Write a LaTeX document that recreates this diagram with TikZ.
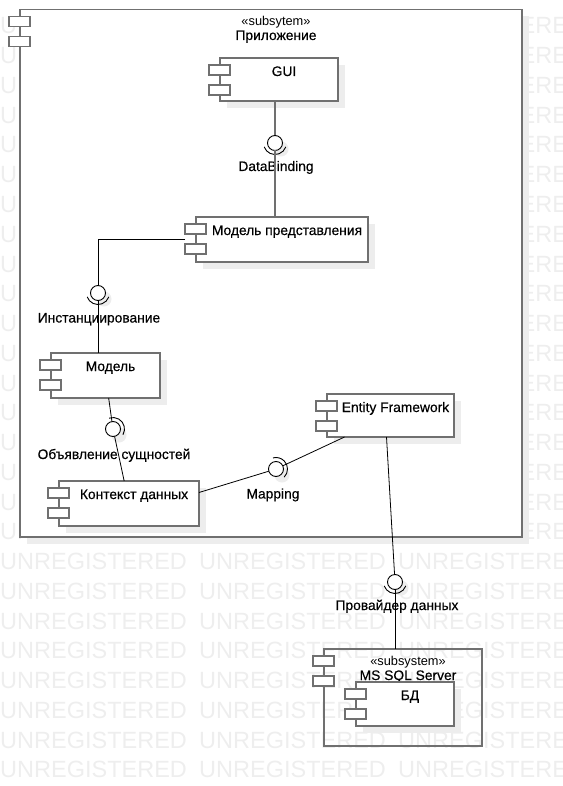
\documentclass[tikz,border=0pt]{standalone}
\usepackage{fontspec}
\setmainfont{Liberation Sans}[FakeBold=0.35]
\newfontfamily\wmfont{Liberation Sans}
\usetikzlibrary{shadows}
\definecolor{boxgray}{HTML}{707070}
\definecolor{shadegray}{HTML}{EDEDED}
\definecolor{wmgray}{HTML}{EEEEEE}

\begin{document}
\begin{tikzpicture}[x=1pt,y=1pt,font=\fontsize{13.8}{16}\selectfont,
    wm/.style={wmgray,font=\wmfont\fontsize{23.5}{28}\selectfont,inner sep=0,anchor=base west},
    comp/.style={draw=boxgray,line width=1.6pt,fill=white,inner sep=0,outer sep=0,
      drop shadow={shadow xshift=7pt,shadow yshift=-7pt,fill=shadegray,opacity=1}},
    subsys/.style={draw=boxgray,line width=1.6pt,inner sep=0,outer sep=0},
    icon/.style={draw=boxgray,line width=1.4pt,fill=white},
    cname/.style={inner sep=0,anchor=base},
    stereo/.style={inner sep=0,anchor=base,font=\wmfont\fontsize{12.8}{15}\selectfont},
    ball/.style={circle,draw,line width=0.9pt,fill=white,minimum size=15,inner sep=0,outer sep=0,
      drop shadow={shadow xshift=6pt,shadow yshift=-6pt,fill=shadegray,opacity=1}},
    socket/.style={line width=0.9pt},
    conn/.style={line width=0.8pt},
    bindline/.style={draw=boxgray,line width=1.6pt},
    iflabel/.style={inner sep=0,anchor=base}]
  \useasboundingbox (0,0) rectangle (562,-786);
  % watermark
  \begin{scope}
    \clip (0,0) rectangle (562,-786);
    \foreach \r in {0,...,25}
      \foreach \c in {0,1,2}
        \node[wm] at (199*\c,-34-29.75*\r) {UNREGISTERED};
  \end{scope}

  % subsystems
  \node[comp,minimum width=502,minimum height=527.5] (app) at (271,-273.25) {};
  \node[stereo] (app-st) at ([shift={(5,-16.5)}]app.north) {«subsytem»};
  \node[cname] (app-name) at ([shift={(5,-30.5)}]app.north) {Приложение};
  \node[subsys,minimum width=158,minimum height=97] (sql) at (403,-697.5) {};
  \node[stereo] (sql-st) at ([shift={(5,-16)}]sql.north) {«subsystem»};
  \node[cname] (sql-name) at ([shift={(5,-31)}]sql.north) {MS SQL Server};

  % components
  \node[comp,minimum width=118,minimum height=43] (gui) at (279,-79.5) {};
  \node[comp,minimum width=172,minimum height=45] (vm) at (282,-239.5) {};
  \node[comp,minimum width=109,minimum height=45] (model) at (105.5,-375.5) {};
  \node[comp,minimum width=140,minimum height=45] (ctx) at (129,-503.5) {};
  \node[comp,minimum width=127,minimum height=43] (ef) at (390.5,-415.5) {};
  \node[comp,minimum width=98,minimum height=44] (db) at (405,-704) {};
  \foreach \b/\t in {gui/GUI,vm/Модель представления,model/Модель,
      ctx/Контекст данных,ef/Entity Framework,db/БД}
    \node[cname] (\b-name) at ([shift={(5,-18)}]\b.north) {\t};
  \foreach \b in {app,sql,gui,vm,model,ctx,ef,db}
    \foreach \dy in {7,27}
      \draw[icon] ([shift={(-11,-\dy)}]\b.north west) rectangle ++(21,-10);

  % interfaces
  \node[ball] (bind) at (275,-143) {};
  \node[ball] (inst) at (98,-293) {};
  \node[ball] (decl) at (113,-429) {};
  \node[ball] (map) at (276,-469) {};
  \node[ball] (prov) at (395,-582) {};
  \foreach \i/\a/\e in {bind/200/340,inst/200/340,decl/-30/110,map/-45/105,prov/200/340}
    \draw[socket] (\i) ++(\a:11.5) arc[start angle=\a,end angle=\e,radius=11.5];
  \node[iflabel] (bind-lbl) at (276,-171) {DataBinding};
  \node[iflabel] (inst-lbl) at (99,-322.5) {Инстанциирование};
  \node[iflabel] (decl-lbl) at (114,-459) {Объявление сущностей};
  \node[iflabel] (map-lbl) at (273,-498.5) {Mapping};
  \node[iflabel] (prov-lbl) at (397,-610) {Провайдер данных};

  % connectors
  \draw[bindline] (bind) -- (bind |- gui.south);
  \draw[bindline] (bind) -- (bind |- vm.north);
  \draw[conn] ([xshift=-11]vm.west) -| (inst);
  \draw[conn] (inst) -- (inst |- model.north);
  \draw[conn] (model) -- (decl);
  \draw[conn] (decl) -- (ctx);
  \draw[conn] ([yshift=11]ctx.east) -- (map);
  \draw[conn] (map) -- (ef);
  \draw[conn] ([xshift=-4]ef.south) -- (prov);
  \draw[conn] (prov) -- (prov |- sql.north);
\end{tikzpicture}
\end{document}
